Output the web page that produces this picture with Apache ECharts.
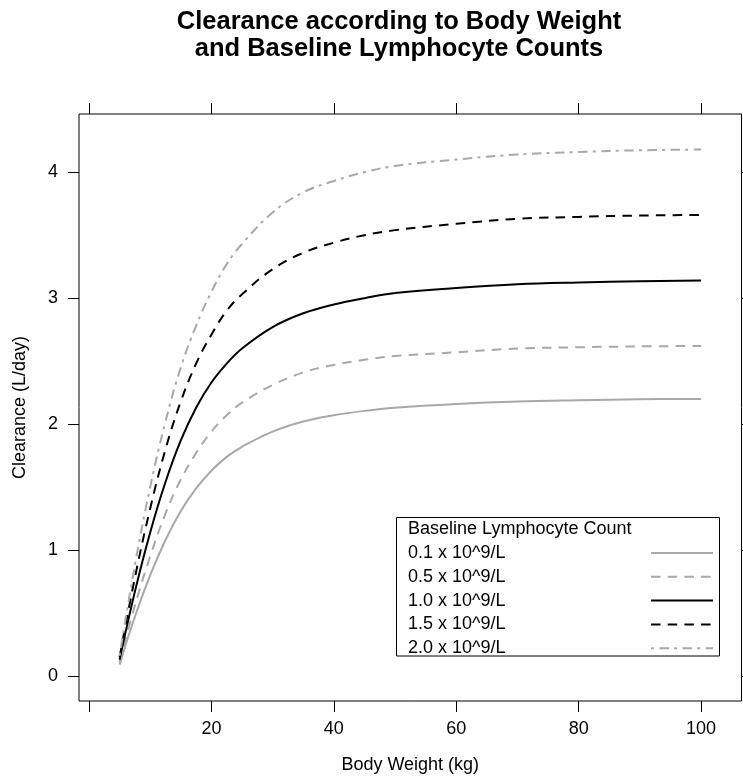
<!DOCTYPE html>
<html>
<head>
<meta charset="utf-8">
<script src="https://cdn.jsdelivr.net/npm/echarts@6/dist/echarts.min.js"></script>
<style>
html,body{margin:0;padding:0;background:#fff;}
#chart{width:743px;height:784px;}
</style>
</head>
<body>
<div id="chart"></div>
<script>
// ---- data ----
const weights = [5, 7.5, 10, 12.5, 15, 17.5, 20, 22.5, 25, 30, 35, 40, 45, 50, 60, 70, 80, 90, 100];
const cl_0_1 = [0.09, 0.47, 0.80, 1.08, 1.31, 1.49, 1.63, 1.74, 1.82, 1.94, 2.02, 2.07, 2.105, 2.13, 2.16, 2.18, 2.19, 2.197, 2.20];
const cl_0_5 = [0.11, 0.56, 0.95, 1.29, 1.56, 1.77, 1.94, 2.07, 2.17, 2.31, 2.41, 2.47, 2.51, 2.54, 2.57, 2.60, 2.61, 2.617, 2.62];
const cl_1_0 = [0.13, 0.67, 1.14, 1.54, 1.87, 2.13, 2.33, 2.48, 2.60, 2.77, 2.88, 2.95, 3.00, 3.04, 3.08, 3.11, 3.125, 3.135, 3.14];
const cl_1_5 = [0.15, 0.78, 1.33, 1.80, 2.18, 2.48, 2.71, 2.90, 3.03, 3.23, 3.36, 3.44, 3.50, 3.54, 3.59, 3.63, 3.645, 3.656, 3.66];
const cl_2_0 = [0.16, 0.88, 1.50, 2.02, 2.45, 2.78, 3.05, 3.27, 3.43, 3.68, 3.84, 3.93, 4.00, 4.05, 4.10, 4.14, 4.16, 4.174, 4.18];
const seriesNames = ['0.1 x 10^9/L', '0.5 x 10^9/L', '1.0 x 10^9/L', '1.5 x 10^9/L', '2.0 x 10^9/L'];
const xTickValues = [0, 20, 40, 60, 80, 100];
const xLabelValues = [20, 40, 60, 80, 100];
const yTickValues = [0, 1, 2, 3, 4];
const titleText = 'Clearance according to Body Weight\nand Baseline Lymphocyte Counts';
const legendTitle = 'Baseline Lymphocyte Count';

// ---- styling ----
const FONT = 'Liberation Sans, Arial, Helvetica, sans-serif';
const GRAY = '#a8a8a8';
const styles = [
  { color: GRAY, type: 'solid' },
  { color: GRAY, type: [9.5, 7.2] },
  { color: '#000', type: 'solid' },
  { color: '#000', type: [9.5, 7.2] },
  { color: GRAY, type: [3, 5.5, 9.5, 5.1] }
];
const values = [cl_0_1, cl_0_5, cl_1_0, cl_1_5, cl_2_0];

const X_MIN = -1.63, X_MAX = 106.6, Y_MIN = -0.1985, Y_MAX = 4.462;

const chart = echarts.init(document.getElementById('chart'), null, { renderer: 'canvas' });

const tickStyle = { show: true, inside: false, length: 11, lineStyle: { color: '#000', width: 1 } };
const lineOff = { show: false, onZero: false };

const option = {
  backgroundColor: '#fff',
  animation: false,
  textStyle: { fontFamily: FONT },
  grid: {
    left: 79, right: 1.5, top: 114, bottom: 83,
    show: true, borderColor: '#000', borderWidth: 1, backgroundColor: 'transparent',
    containLabel: false
  },
  xAxis: [
    {
      type: 'value', position: 'bottom', min: X_MIN, max: X_MAX,
      splitLine: { show: false }, axisLine: lineOff,
      axisTick: Object.assign({}, tickStyle, { customValues: xTickValues }),
      axisLabel: { customValues: xLabelValues, color: '#000', fontSize: 18, fontFamily: FONT, margin: 19 },
      name: 'Body Weight (kg)', nameLocation: 'middle', nameGap: 55,
      nameTextStyle: { fontSize: 18, color: '#000', fontFamily: FONT }
    },
    {
      type: 'value', position: 'top', min: X_MIN, max: X_MAX,
      splitLine: { show: false }, axisLine: lineOff,
      axisTick: Object.assign({}, tickStyle, { customValues: xTickValues }),
      axisLabel: { show: false }
    }
  ],
  yAxis: [
    {
      type: 'value', position: 'left', min: Y_MIN, max: Y_MAX,
      splitLine: { show: false }, axisLine: lineOff,
      axisTick: Object.assign({}, tickStyle, { customValues: yTickValues }),
      axisLabel: { customValues: yTickValues, color: '#000', fontSize: 18, fontFamily: FONT, margin: 21 },
      name: 'Clearance (L/day)', nameLocation: 'middle', nameGap: 50,
      nameTextStyle: { fontSize: 18, color: '#000', fontFamily: FONT }
    },
    {
      type: 'value', position: 'right', min: Y_MIN, max: Y_MAX,
      splitLine: { show: false }, axisLine: lineOff,
      axisTick: Object.assign({}, tickStyle, { customValues: yTickValues }),
      axisLabel: { show: false }
    }
  ],
  legend: {
    orient: 'vertical',
    left: 408, top: 544,
    padding: 0,
    z: 30,
    itemWidth: 62, itemHeight: 14, itemGap: 5.8,
    align: 'right',
    selectedMode: false,
    data: seriesNames,
    itemStyle: { opacity: 0, borderWidth: 0 },
    formatter: '{a|{name}}',
    textStyle: {
      color: '#000', fontFamily: FONT, fontSize: 18,
      rich: { a: { width: 238, align: 'left', fontSize: 18, fontFamily: FONT, color: '#000' } }
    }
  },
  graphic: [
    {
      type: 'text', x: 399, y: 8, z: 100,
      style: { text: titleText, font: 'bold 25.5px ' + FONT, fill: '#000', align: 'center', verticalAlign: 'top', lineHeight: 27 }
    },
    {
      type: 'rect', z: 10,
      shape: { x: 396.5, y: 517.5, width: 323, height: 138.5 },
      style: { fill: '#fff', stroke: '#000', lineWidth: 1 }
    },
    {
      type: 'text', x: 408, y: 529, z: 100,
      style: { text: legendTitle, font: '18px ' + FONT, fill: '#000', align: 'left', verticalAlign: 'middle' }
    }
  ],
  series: seriesNames.map((name, i) => ({
    name: name,
    type: 'line',
    xAxisIndex: 0, yAxisIndex: 0,
    data: weights.map((w, j) => [w, values[i][j]]),
    showSymbol: false, symbol: 'none',
    smooth: 0.4,
    z: 2 + i,
    lineStyle: { color: styles[i].color, width: 2, type: styles[i].type, cap: 'butt' },
    itemStyle: { color: styles[i].color }
  }))
};

chart.setOption(option);
</script>
</body>
</html>
